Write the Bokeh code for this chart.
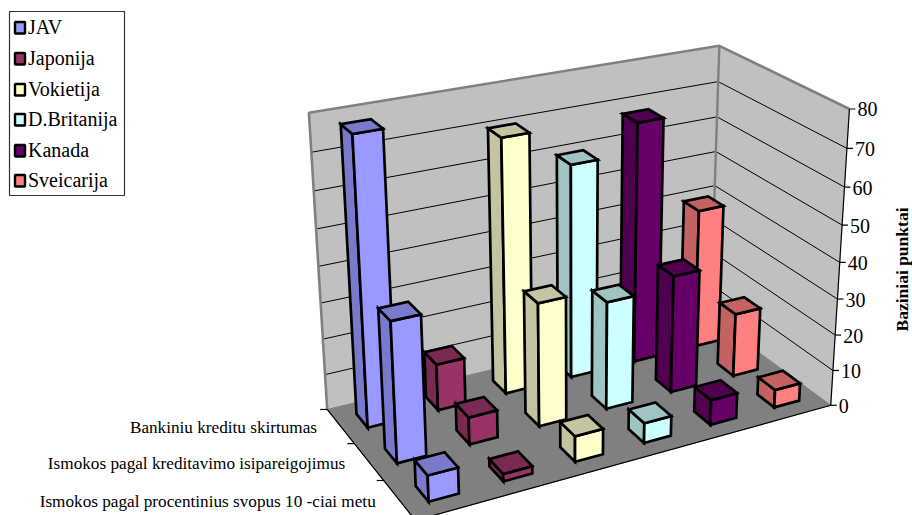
import numpy as np
from bokeh.plotting import figure
from bokeh.models import Range1d
from bokeh.core.properties import value
from bokeh.embed import file_html
from bokeh.resources import INLINE

categories = ["Bankiniu kreditu skirtumas",
              "Ismokos pagal kreditavimo isipareigojimus",
              "Ismokos pagal procentinius svopus 10 -ciai metu"]
series_names = ["JAV", "Japonija", "Vokietija", "D.Britanija", "Kanada", "Sveicarija"]
JAV = [78, 38, 7]
Japonija = [13, 7.5, 2]
Vokietija = [70.5, 34, 7]
DBritanija = [60, 30, 5.5]
Kanada = [68, 33, 7]
Sveicarija = [40, 18, 5]
series_values = [JAV, Japonija, Vokietija, DBritanija, Kanada, Sveicarija]
face_colors = ["#9999FF", "#993366", "#FFFFCC", "#CCFFFF", "#660066", "#FF8080"]
shade_colors = ["#7A7ACC", "#7A2952", "#C4C4A0", "#9FC4C4", "#4F004F", "#C46262"]
value_ticks = [0, 10, 20, 30, 40, 50, 60, 70, 80]

FONT = value("Liberation Serif")
NS, NC, ZMAX = len(series_names), len(categories), value_ticks[-1]
BAR_LO, BAR_HI = 0.3, 0.7

# camera calibration: box corners (series, category, value) -> page pixels
world = np.array([[0, 0, 0], [NS, 0, 0], [NS, NC, 0], [0, NC, 0],
                  [0, 0, ZMAX], [NS, 0, ZMAX], [NS, NC, ZMAX]], float)
page = np.array([[327, 410], [709, 315], [831, 406], [415, 519],
                 [308, 112], [720, 46], [848, 108]], float)
A, b = [], []
for (u, v, z), (x, y) in zip(world, page):
    A.append([u, v, z, 1, 0, 0, 0, 0, -x*u, -x*v, -x*z]); b.append(x)
    A.append([0, 0, 0, 0, u, v, z, 1, -y*u, -y*v, -y*z]); b.append(y)
m = np.linalg.lstsq(np.array(A), np.array(b), rcond=None)[0]
P = np.append(m, 1.0).reshape(3, 4)


def proj(u, v, z):
    q = P @ np.array([u, v, z, 1.0])
    return q[0] / q[2], q[1] / q[2]


def poly(pts):
    xy = [proj(*pt) for pt in pts]
    return [a for a, _ in xy], [c for _, c in xy]


p = figure(width=912, height=515, x_range=Range1d(0, 912), y_range=Range1d(515, 0),
           min_border=0, output_backend="svg", toolbar_location=None,
           outline_line_color=None, background_fill_color="white")
p.axis.visible = False
p.grid.visible = False

# walls and floor
wx, wy = [], []
for pts in ([(0, 0, 0), (NS, 0, 0), (NS, 0, ZMAX), (0, 0, ZMAX)],
            [(NS, 0, 0), (NS, NC, 0), (NS, NC, ZMAX), (NS, 0, ZMAX)]):
    a, c = poly(pts)
    wx.append(a); wy.append(c)
p.patches(wx, wy, fill_color="#C0C0C0", line_color="#C0C0C0", line_width=1)
fx, fy = poly([(0, 0, 0), (NS, 0, 0), (NS, NC, 0), (0, NC, 0)])
p.patch(fx, fy, fill_color="#808080", line_color="#808080", line_width=1)

# gridlines
gx, gy = [], []
for t in value_ticks[1:-1]:
    a, c = poly([(0, 0, t), (NS, 0, t), (NS, NC, t)])
    gx.append(a); gy.append(c)
p.multi_line(gx, gy, line_color="black", line_width=1)

# wall frame
a, c = poly([(0, 0, 0), (0, 0, ZMAX), (NS, 0, ZMAX), (NS, NC, ZMAX)])
p.line(a, c, line_color="#808080", line_width=2.6)
a, c = poly([(NS, 0, 0), (NS, 0, ZMAX)])
p.line(a, c, line_color="#808080", line_width=2.4)

# floor front edges, value axis
a, c = poly([(0, 0, 0), (0, NC, 0), (NS, NC, 0), (NS, NC, ZMAX)])
p.line(a, c, line_color="black", line_width=1.2)

# ticks
tx, ty = [], []
for t in value_ticks:
    x0, y0 = proj(NS, NC, t)
    tx.append([x0, x0 + 6]); ty.append([y0, y0])
for j in range(NC + 1):
    x0, y0 = proj(0, j, 0)
    tx.append([x0 - 7, x0]); ty.append([y0, y0])
p.multi_line(tx, ty, line_color="black", line_width=1.2)

# tick labels
lx, ly = zip(*[proj(NS, NC, t) for t in value_ticks])
p.text([x + 8 for x in lx], [y + 0.5 for y in ly], text=[str(t) for t in value_ticks],
       text_font=FONT, text_font_size="20px", text_baseline="middle", text_align="left",
       text_color="black")
cx, cy = zip(*[proj(0, j + 0.5, 0) for j in range(NC)])
p.text([x - 23.5 for x in cx], [y + 1.5 for y in cy], text=categories,
       text_font=FONT, text_font_size="17.2px", text_baseline="middle", text_align="right",
       text_color="black")
p.text([901.5], [269], text=["Baziniai punktai"], angle=np.pi / 2, text_font=FONT,
       text_font_size="17.5px", text_font_style="bold", text_baseline="middle",
       text_align="center", text_color="black")

# bars, back row first
bx, by, bc = [], [], []
for j in range(NC):
    for i in reversed(range(NS)):
        h = series_values[i][j]
        u0, u1, v0, v1 = i + BAR_LO, i + BAR_HI, j + BAR_LO, j + BAR_HI
        faces = [([(u0, v0, 0), (u0, v1, 0), (u0, v1, h), (u0, v0, h)], shade_colors[i]),
                 ([(u0, v1, 0), (u1, v1, 0), (u1, v1, h), (u0, v1, h)], face_colors[i]),
                 ([(u0, v0, h), (u1, v0, h), (u1, v1, h), (u0, v1, h)], shade_colors[i])]
        for pts, col in faces:
            a, c = poly(pts)
            bx.append(a); by.append(c); bc.append(col)
p.patches(bx, by, fill_color=bc, line_color="black", line_width=2.7, line_join="miter")

# legend
p.quad(left=[9], right=[124], top=[11], bottom=[195], fill_color="white",
       line_color="#333333", line_width=1.2)
legend_y = [27, 58, 89, 119, 150, 180]
p.quad(left=[14.5] * NS, right=[24.5] * NS, top=[y - 5.5 for y in legend_y],
       bottom=[y + 6 for y in legend_y], fill_color=face_colors, line_color="black",
       line_width=2.4)
p.text([27.5] * NS, [y - 1 for y in legend_y], text=series_names, text_font=FONT,
       text_font_size="20px", text_baseline="middle", text_align="left", text_color="black")

open("out.html", "w").write(file_html(p, INLINE))
